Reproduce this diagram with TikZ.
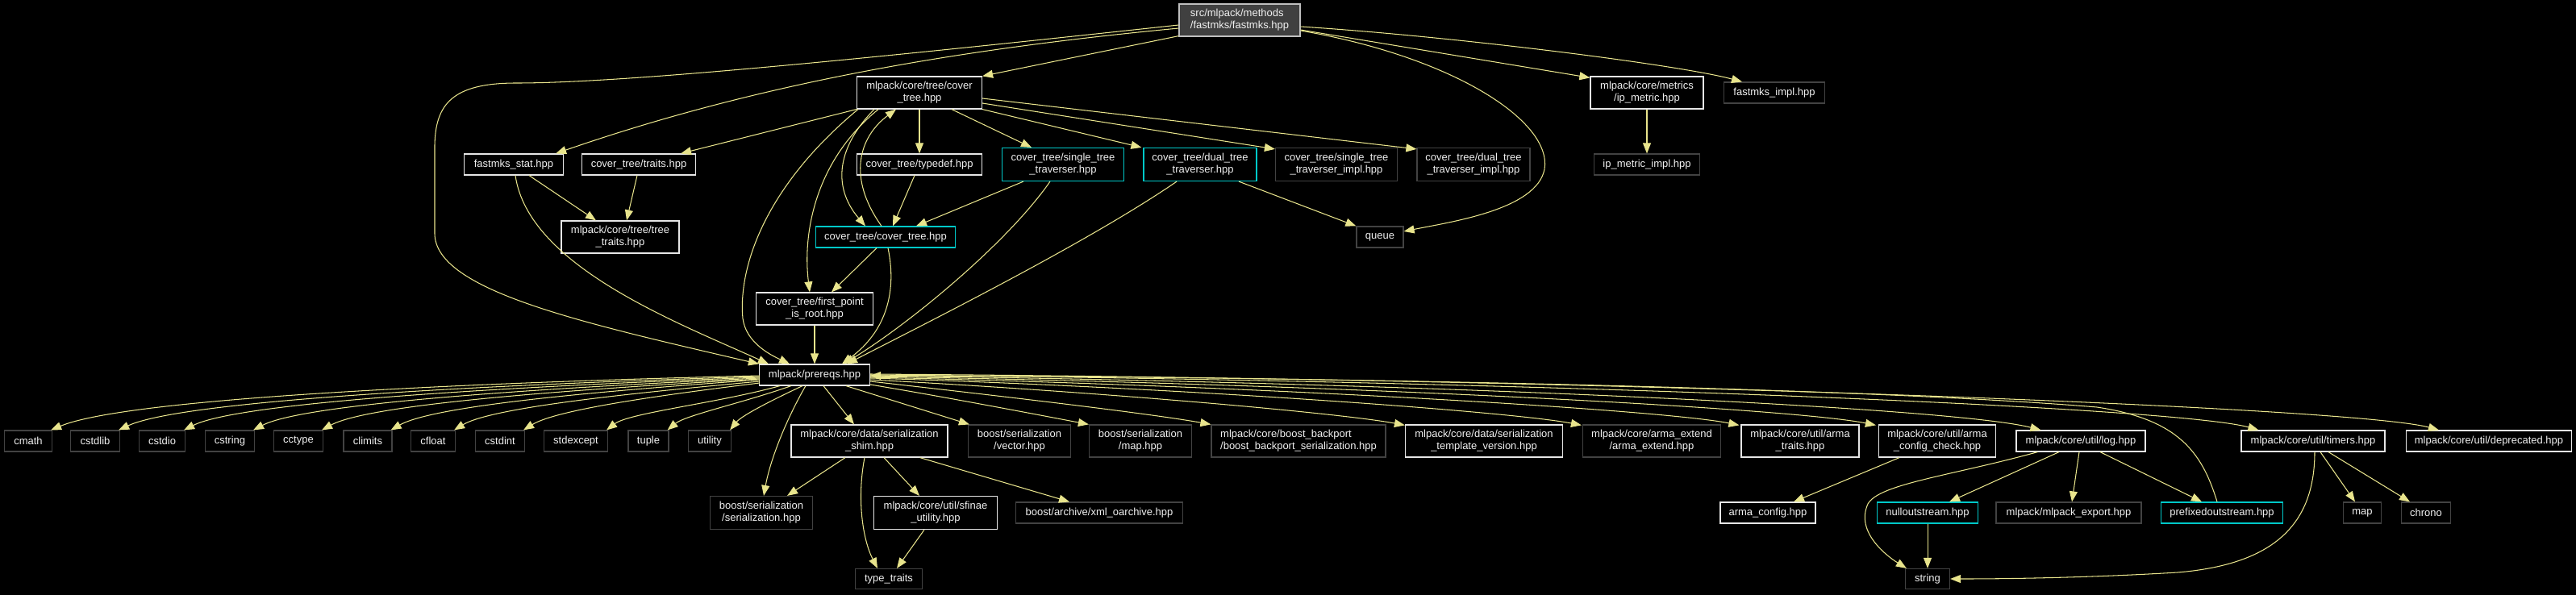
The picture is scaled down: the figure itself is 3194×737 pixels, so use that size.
\documentclass[tikz,border=0pt]{standalone}
\usepackage{fontspec}
\setmainfont{Liberation Sans}
\usetikzlibrary{arrows.meta,calc}
\definecolor{edgec}{RGB}{232,228,140}
\definecolor{docb}{RGB}{230,230,230}
\definecolor{undocb}{RGB}{66,66,66}
\definecolor{cyanb}{RGB}{0,200,200}
\definecolor{rootf}{RGB}{64,64,64}
\definecolor{rootb}{RGB}{191,191,191}
\definecolor{txt}{RGB}{240,240,240}
\begin{document}
\begin{tikzpicture}[x=1pt,y=-1pt,
  box/.style={draw, line width=1.2pt, inner sep=0pt, text=txt, align=center, font=\fontsize{13}{15}\selectfont, minimum height=26},
  doc/.style={box, draw=docb},
  undoc/.style={box, draw=undocb},
  cyn/.style={box, draw=cyanb},
  rootbox/.style={box, draw=rootb, fill=rootf, align=left},
  dep/.style={draw=edgec, line width=1.05pt, -{Triangle[length=13pt,width=10pt]}}]
\useasboundingbox (0,0) rectangle (3194,737);
\fill[black] (-6,-6) rectangle (3200,743);

% ---- nodes ----
\node[rootbox, minimum width=150, minimum height=40] (root) at (1537,25) {src/mlpack/methods\\/fastmks/fastmks.hpp};
\node[doc, minimum width=155, minimum height=40] (cth) at (1140,115) {mlpack/core/tree/cover\\\_tree.hpp};
\node[doc, minimum width=140, minimum height=40] (ipm) at (2042,115) {mlpack/core/metrics\\/ip\_metric.hpp};
\node[undoc, minimum width=125] (fimpl) at (2200,115) {fastmks\_impl.hpp};
\node[undoc, minimum width=131] (ipmi) at (2042,204) {ip\_metric\_impl.hpp};
\node[doc, minimum width=123] (fstat) at (637,204) {fastmks\_stat.hpp};
\node[doc, minimum width=141] (traits) at (792,204) {cover\_tree/traits.hpp};
\node[doc, minimum width=155] (typedef) at (1140,204) {cover\_tree/typedef.hpp};
\node[cyn, minimum width=151, minimum height=41] (stt) at (1318,204) {cover\_tree/single\_tree\\\_traverser.hpp};
\node[cyn, minimum width=140, minimum height=41] (dtt) at (1488,204) {cover\_tree/dual\_tree\\\_traverser.hpp};
\node[undoc, minimum width=151, minimum height=41] (stti) at (1657,204) {cover\_tree/single\_tree\\\_traverser\_impl.hpp};
\node[undoc, minimum width=140, minimum height=41] (dtti) at (1827,204) {cover\_tree/dual\_tree\\\_traverser\_impl.hpp};
\node[undoc, minimum width=58] (queue) at (1711,294) {queue};
\node[doc, minimum width=146, minimum height=40] (ttraits) at (769,294) {mlpack/core/tree/tree\\\_traits.hpp};
\node[cyn, minimum width=173] (ctct) at (1098,294) {cover\_tree/cover\_tree.hpp};
\node[doc, minimum width=145, minimum height=40] (fpr) at (1010,383) {cover\_tree/first\_point\\\_is\_root.hpp};
\node[doc, minimum width=137] (prereqs) at (1010,465) {mlpack/prereqs.hpp};

\node[undoc, minimum width=59] (cmath) at (35,547) {cmath};
\node[undoc, minimum width=61] (cstdlib) at (118,547) {cstdlib};
\node[undoc, minimum width=57] (cstdio) at (201,547) {cstdio};
\node[undoc, minimum width=61] (cstring) at (285,547) {cstring};
\node[undoc, minimum width=61] (cctype) at (370,547) {cctype};
\node[undoc, minimum width=60] (climits) at (456,547) {climits};
\node[undoc, minimum width=55] (cfloat) at (537,547) {cfloat};
\node[undoc, minimum width=61] (cstdint) at (620,547) {cstdint};
\node[undoc, minimum width=79] (stdexcept) at (714,547) {stdexcept};
\node[undoc, minimum width=50] (tuple) at (804,547) {tuple};
\node[undoc, minimum width=53] (utility) at (880,547) {utility};

\node[doc, minimum width=194, minimum height=40] (shim) at (1078,547) {mlpack/core/data/serialization\\\_shim.hpp};
\node[undoc, minimum width=127, minimum height=41] (bser) at (944,636) {boost/serialization\\/serialization.hpp};
\node[undoc, minimum width=83, minimum height=25] (ttr) at (1102,718) {type\_traits};
\node[doc, minimum width=153, minimum height=41] (sfinae) at (1160,636) {mlpack/core/util/sfinae\\\_utility.hpp};
\node[undoc, minimum width=207] (xml) at (1363,636) {boost/archive/xml\_oarchive.hpp};
\node[undoc, minimum width=127, minimum height=40] (vec) at (1264,547) {boost/serialization\\/vector.hpp};
\node[undoc, minimum width=127, minimum height=40] (bmap) at (1414,547) {boost/serialization\\/map.hpp};
\node[undoc, minimum width=216, minimum height=40, align=left] (backport) at (1610,547) {mlpack/core/boost\_backport\\/boost\_backport\_serialization.hpp};
\node[doc, minimum width=195, minimum height=40] (tmpl) at (1840,547) {mlpack/core/data/serialization\\\_template\_version.hpp};
\node[undoc, minimum width=171, minimum height=40] (aext) at (2048,547) {mlpack/core/arma\_extend\\/arma\_extend.hpp};
\node[doc, minimum width=146, minimum height=40] (atraits) at (2232,547) {mlpack/core/util/arma\\\_traits.hpp};
\node[doc, minimum width=145, minimum height=40] (acc) at (2402,547) {mlpack/core/util/arma\\\_config\_check.hpp};
\node[doc, minimum width=160] (log) at (2580,547) {mlpack/core/util/log.hpp};
\node[doc, minimum width=178] (timers) at (2868,547) {mlpack/core/util/timers.hpp};
\node[doc, minimum width=205] (depr) at (3086,547) {mlpack/core/util/deprecated.hpp};
\node[doc, minimum width=118] (aconf) at (2192,636) {arma\_config.hpp};
\node[cyn, minimum width=125] (nullo) at (2390,636) {nulloutstream.hpp};
\node[undoc, minimum width=180] (mexp) at (2565,636) {mlpack/mlpack\_export.hpp};
\node[cyn, minimum width=151] (prefo) at (2755,636) {prefixedoutstream.hpp};
\node[undoc, minimum width=47] (map) at (2929,636) {map};
\node[undoc, minimum width=61] (chrono) at (3008,636) {chrono};
\node[undoc, minimum width=55, minimum height=25] (string) at (2390,718) {string};

% ---- edges from root ----
\draw[dep] ($(root.south west)+(0,-1)$) -- (cth.north east);
\draw[dep] ($(root.west)+(0,10)$) .. controls (1200,60) and (950,100) .. ($(fstat.north east)+(-10,0)$);
\draw[dep] ($(root.west)+(0,6)$) .. controls (1100,70) and (780,103) .. (640,103) .. controls (560,103) and (540,130) .. (539,180) -- (539,290) .. controls (540,360) and (720,400) .. (prereqs.north west);
\draw[dep] ($(root.east)+(0,12)$) -- ($(ipm.north west)+(0,2)$);
\draw[dep] ($(root.east)+(0,8)$) .. controls (1800,45) and (2080,80) .. ($(fimpl.north)+(-40,0)$);
\draw[dep] ($(root.east)+(0,13)$) .. controls (1800,70) and (1925,150) .. (1915,210) .. controls (1905,260) and (1800,275) .. ($(queue.east)+(0,-7)$);

% ---- edges from cover_tree.hpp ----
\draw[dep] (cth.south west) -- ($(traits.north east)+(-19,0)$);
\draw[dep] (cth.south) -- (typedef.north);
\draw[dep] ($(cth.south)+(40,0)$) -- ($(stt.north)+(-39,0)$);
\draw[dep] (cth.south east) -- ($(dtt.north west)+(-2,0)$);
\draw[dep] ($(cth.east)+(0,13)$) -- ($(stti.north west)+(0,2)$);
\draw[dep] ($(cth.east)+(0,7)$) -- ($(dtti.north west)+(0,2)$);
\draw[dep] ($(cth.south)+(-56,0)$) .. controls (1040,180) and (1030,230) .. ($(ctct.north)+(-25,0)$);
\draw[dep] ($(cth.south)+(-51,0)$) .. controls (1010,200) and (995,290) .. ($(fpr.north)+(-6,0)$);
\draw[dep] ($(cth.south west)+(2,0)$) .. controls (950,230) and (915,330) .. (921,395) .. controls (925,425) and (955,440) .. ($(prereqs.north)+(-31,0)$);
\draw[dep] ($(ctct.north)+(-5,0)$) .. controls (1050,220) and (1065,170) .. ($(cth.south)+(-29,0)$);

% ---- middle layer ----
\draw[dep] ($(fstat.south)+(19,0)$) -- ($(ttraits.north)+(-30,0)$);
\draw[dep] ($(fstat.south)+(2,0)$) .. controls (655,330) and (840,400) .. ($(prereqs.north west)+(12,0)$);
\draw[dep] ($(traits.south)+(-2,0)$) -- ($(ttraits.north)+(8,0)$);
\draw[dep] ($(typedef.south)+(-6,0)$) -- ($(ctct.north)+(9,0)$);
\draw[dep] ($(stt.south west)+(27,0)$) -- ($(ctct.north)+(38,0)$);
\draw[dep] ($(stt.south)+(-16,0)$) .. controls (1250,300) and (1130,400) .. ($(prereqs.north)+(36,0)$);
\draw[dep] ($(dtt.south)+(-29,0)$) .. controls (1350,300) and (1150,400) .. ($(prereqs.north)+(40,0)$);
\draw[dep] ($(dtt.south)+(48,0)$) -- (queue.north west);
\draw[dep] ($(ctct.south)+(-11,0)$) -- ($(fpr.north)+(21,0)$);
\draw[dep] ($(ctct.south)+(3,0)$) .. controls (1112,360) and (1100,410) .. ($(prereqs.north)+(34,0)$);
\draw[dep] (fpr.south) -- (prereqs.north);
\draw[dep] (ipm.south) -- (ipmi.north);

% ---- prereqs to system headers ----
\draw[dep] ($(prereqs.west)+(1,1)$) .. controls (600,474) and (160,493) .. ($(cmath.north east)+(-2,0)$);
\draw[dep] ($(prereqs.west)+(1,2)$) .. controls (640,476) and (230,495) .. ($(cstdlib.north east)+(-2,0)$);
\draw[dep] ($(prereqs.west)+(1,3)$) .. controls (670,478) and (300,497) .. ($(cstdio.north east)+(-2,0)$);
\draw[dep] ($(prereqs.west)+(1,4)$) .. controls (700,480) and (380,499) .. ($(cstring.north east)+(-2,0)$);
\draw[dep] ($(prereqs.west)+(1,5)$) .. controls (730,482) and (460,500) .. ($(cctype.north east)+(-2,0)$);
\draw[dep] ($(prereqs.west)+(1,6)$) .. controls (760,484) and (540,502) .. ($(climits.north east)+(-2,0)$);
\draw[dep] ($(prereqs.west)+(1,8)$) .. controls (790,487) and (610,505) .. ($(cfloat.north east)+(-2,0)$);
\draw[dep] ($(prereqs.west)+(1,10)$) .. controls (820,490) and (690,508) .. ($(cstdint.north east)+(-2,0)$);
\draw[dep] ($(prereqs.south west)+(26,0)$) .. controls (890,500) and (780,512) .. ($(stdexcept.north east)+(-2,0)$);
\draw[dep] ($(prereqs.south west)+(40,0)$) .. controls (920,500) and (850,515) .. ($(tuple.north east)+(-2,0)$);
\draw[dep] ($(prereqs.south west)+(54,0)$) .. controls (960,495) and (920,515) .. ($(utility.north east)+(-2,0)$);

% ---- prereqs to others ----
\draw[dep] ($(prereqs.south west)+(58,0)$) .. controls (975,520) and (955,570) .. ($(bser.north)+(3,0)$);
\draw[dep] ($(prereqs.south)+(11,0)$) -- ($(shim.north)+(-19,0)$);
\draw[dep] ($(prereqs.south)+(39,0)$) -- ($(vec.north west)+(2,0)$);
\draw[dep] ($(prereqs.east)+(0,12)$) .. controls (1170,492) and (1290,515) .. ($(bmap.north west)+(0,0)$);
\draw[dep] ($(prereqs.east)+(0,8)$) .. controls (1230,490) and (1420,512) .. ($(backport.north west)+(0,0)$);
\draw[dep] ($(prereqs.east)+(0,6)$) .. controls (1350,485) and (1660,512) .. ($(tmpl.north west)+(0,1)$);
\draw[dep] ($(prereqs.east)+(0,4)$) .. controls (1450,480) and (1870,510) .. ($(aext.north west)+(-1,1)$);
\draw[dep] ($(prereqs.east)+(0,3)$) .. controls (1550,478) and (2060,508) .. ($(atraits.north west)+(-2,1)$);
\draw[dep] ($(prereqs.east)+(0,2)$) .. controls (1650,476) and (2220,506) .. ($(acc.north west)+(-3,1)$);
\draw[dep] ($(prereqs.east)+(0,1)$) .. controls (1750,474) and (2420,505) .. ($(log.north west)+(31,0)$);
\draw[dep] ($(prereqs.east)+(0,0)$) .. controls (1900,472) and (2700,505) .. ($(timers.north west)+(22,0)$);
\draw[dep] ($(prereqs.east)+(0,-1)$) .. controls (2000,470) and (2920,505) .. ($(depr.north west)+(41,0)$);
\draw[dep] ($(prefo.north)+(-6,0)$) .. controls (2730,560) and (2700,520) .. (2600,505) .. controls (2300,480) and (1600,467) .. ($(prereqs.east)+(0,1)$);

% ---- lower layer ----
\draw[dep] ($(shim.south)+(-30,0)$) -- ($(bser.north east)+(-32,0)$);
\draw[dep] ($(shim.south)+(-6,0)$) .. controls (1062,620) and (1070,670) .. ($(ttr.north)+(-14,0)$);
\draw[dep] ($(shim.south)+(18,0)$) -- ($(sfinae.north)+(-20,0)$);
\draw[dep] ($(shim.south east)+(-35,0)$) -- ($(xml.north)+(-37,0)$);
\draw[dep] ($(sfinae.south)+(-14,0)$) -- ($(ttr.north)+(10,0)$);
\draw[dep] ($(acc.south)+(-47,0)$) -- ($(aconf.north)+(32,0)$);
\draw[dep] ($(log.south west)+(27,0)$) .. controls (2420,590) and (2330,600) .. (2316,625) .. controls (2300,660) and (2340,690) .. ($(string.north west)+(2,0)$);
\draw[dep] ($(log.south)+(-27,0)$) -- ($(nullo.north)+(27,0)$);
\draw[dep] ($(log.south)+(-2,0)$) -- ($(mexp.north)+(4,0)$);
\draw[dep] ($(log.south)+(24,0)$) -- ($(prefo.north)+(-25,0)$);
\draw[dep] (nullo.south) -- (string.north);
\draw[dep] ($(timers.south)+(2,0)$) .. controls (2870,650) and (2820,700) .. (2700,710) .. controls (2600,716) and (2500,718) .. (string.east);
\draw[dep] ($(timers.south)+(9,0)$) -- ($(map.north)+(-9,0)$);
\draw[dep] ($(timers.south)+(19,0)$) -- ($(chrono.north)+(-20,0)$);
\end{tikzpicture}
\end{document}
